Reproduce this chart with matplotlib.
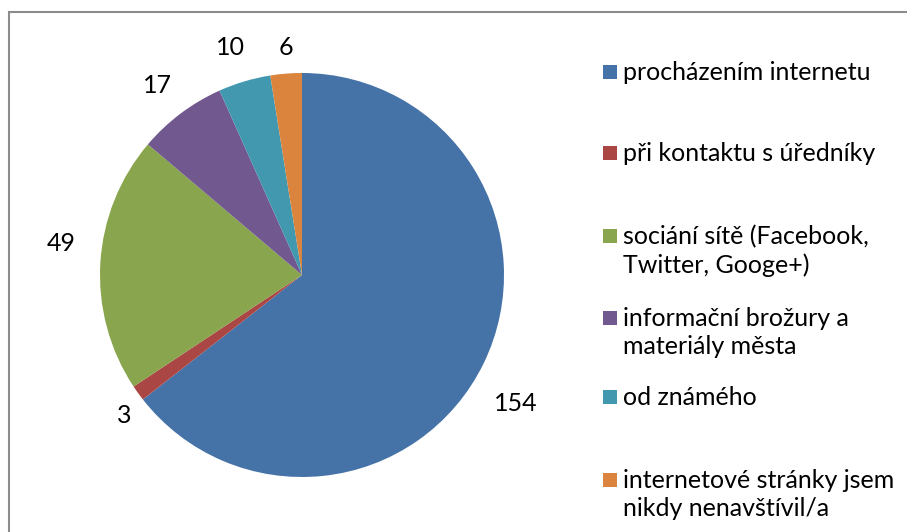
import matplotlib.pyplot as plt
import matplotlib.patches as mpatches
import numpy as np

# data
labels = ["procházením internetu", "při kontaktu s úředníky",
          "sociání sítě (Facebook,\nTwitter, Googe+)",
          "informační brožury a\nmateriály města", "od známého",
          "internetové stránky jsem\nnikdy nenavštívil/a"]
values = [154, 3, 49, 17, 10, 6]
colors = ["#4572A7", "#AA4643", "#89A54E", "#71588F", "#4198AF", "#DB843D"]

plt.rcParams['font.family'] = ['Lato', 'DejaVu Sans']
FS = 18

W, H = 907, 532
fig = plt.figure(figsize=(W / 100, H / 100), dpi=100)

# pie area: centre (302, 275) px, radius 202 px
ax = fig.add_axes([100 / W, (H - 477) / H, 404 / W, 404 / H])
wedges, _ = ax.pie(values, colors=colors, startangle=90, counterclock=False,
                   radius=1.0, wedgeprops=dict(linewidth=0))
ax.set_xlim(-1, 1)
ax.set_ylim(-1, 1)
ax.set_aspect('equal')
ax.axis('off')

# value labels outside each wedge (Excel nudges them a bit off the mid-angle)
dist = [1.235, 1.12, 1.2, 1.18, 1.18, 1.13]
shift = [-5, 2.5, -4, 0.5, 1, -0.5]
for w, v, d, s in zip(wedges, values, dist, shift):
    ang = np.deg2rad((w.theta1 + w.theta2) / 2 + s)
    ax.text(d * np.cos(ang), d * np.sin(ang), str(v), ha='center', va='center',
            fontsize=FS, color='black', clip_on=False)

# outer frame (only left and top edges visible in the crop)
fig.patches.append(mpatches.Rectangle((9 / W, -0.1), 1.2, (H - 12) / H + 0.1,
                                      transform=fig.transFigure, fill=False,
                                      edgecolor='#8c8c8c', linewidth=1.5))

# legend, drawn by hand to match Excel's spacing
first_y = [72, 153, 236, 318, 397, 480]
for lab, c, y in zip(labels, colors, first_y):
    fig.patches.append(mpatches.Rectangle((603 / W, (H - y - 7) / H), 14 / W, 14 / H,
                                          transform=fig.transFigure, facecolor=c,
                                          edgecolor='none'))
    fig.text(623 / W, (H - y + 11) / H, lab, ha='left', va='top', fontsize=FS,
             linespacing=1.28)

fig.savefig("out.png", dpi=100)
